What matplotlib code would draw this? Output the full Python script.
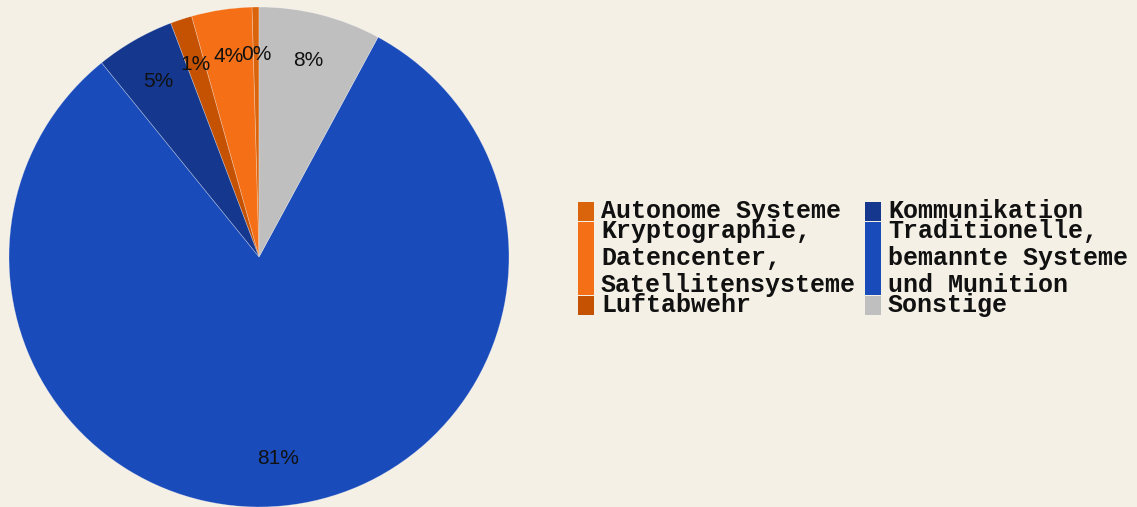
import matplotlib
matplotlib.use("Agg")
import matplotlib.pyplot as plt
from matplotlib.patches import Rectangle

# data (share in %), order = counter-clockwise from 12 o'clock
labels = ["Autonome Systeme",
          "Kryptographie,\nDatencenter,\nSatellitensysteme",
          "Luftabwehr",
          "Kommunikation",
          "Traditionelle,\nbemannte Systeme\nund Munition",
          "Sonstige"]
shares = [0.45, 3.9, 1.4, 5.1, 81.3, 7.9]
colors = ["#d9640b", "#f46f16", "#c55203", "#15388e", "#1a4bba", "#bfbfbf"]

W, H = 1137, 507
bg = "#f4f0e6"

fig = plt.figure(figsize=(W / 100, H / 100), dpi=100, facecolor=bg)

# pie: center (259, 257) px, radius 250 px
cx, cy, r = 259, 257, 250
ax = fig.add_axes([(cx - r) / W, (H - cy - r) / H, 2 * r / W, 2 * r / H])
ax.set_facecolor(bg)
wedges, texts, autotexts = ax.pie(
    shares, colors=colors, startangle=90, counterclock=True,
    autopct="%.0f%%", pctdistance=0.81,
    wedgeprops=dict(linewidth=0.5, edgecolor=(1, 1, 1, 0.35)),
    textprops=dict(fontsize=15, family="Liberation Sans", color="#111111"))
ax.set_xlim(-1, 1)
ax.set_ylim(-1, 1)
ax.axis("off")

# legend drawn by hand: two columns, patches span the whole row
def px(x, y):
    return x / W, 1 - y / H

col_x = [578, 865]
per_col = 3
top = 202
line_h = 27
single_h = 19
for c in range(2):
    y = top
    for i in range(c * per_col, (c + 1) * per_col):
        lines = labels[i].split("\n")
        h = single_h + line_h * (len(lines) - 1)
        x0, y0 = px(col_x[c], y + h)
        fig.patches.append(Rectangle((x0, y0), 16 / W, h / H,
                                     transform=fig.transFigure,
                                     facecolor=colors[i], edgecolor="none"))
        for k, ln in enumerate(lines):
            tx, ty = px(col_x[c] + 23, y + 16 + line_h * k)
            fig.text(tx, ty, ln, fontsize=18, family="Liberation Mono",
                     fontweight="bold", color="#111111", va="baseline")
        y += h + 1

fig.savefig("out.png", dpi=100, facecolor=bg)
